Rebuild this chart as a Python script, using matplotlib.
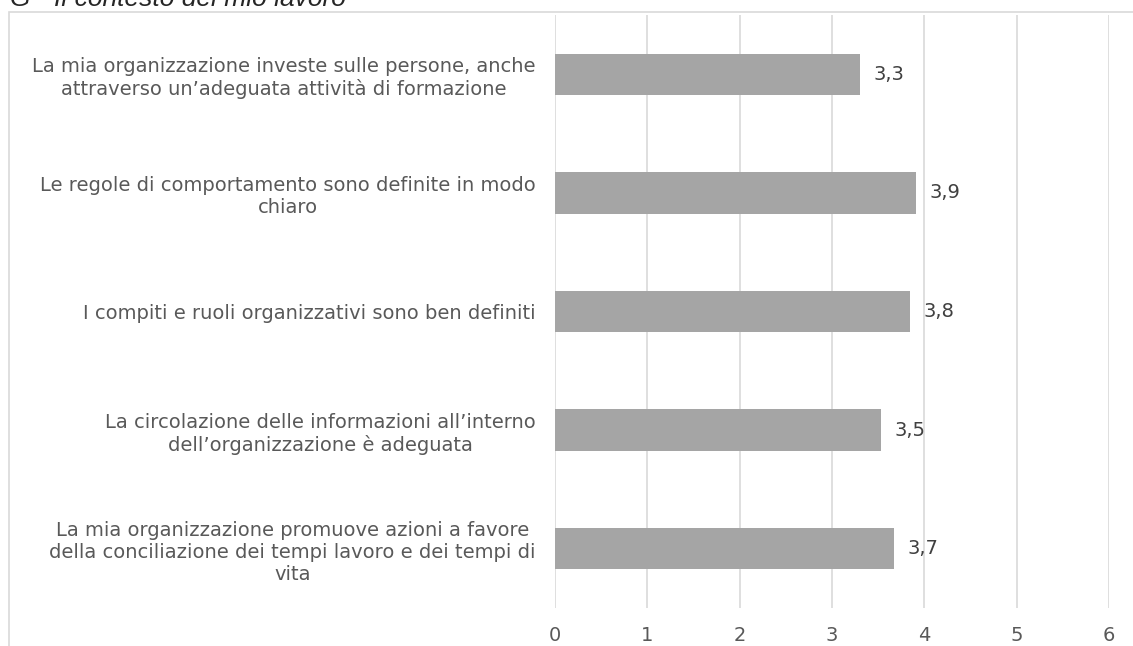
import matplotlib
matplotlib.use("Agg")
import matplotlib.pyplot as plt
from matplotlib.patches import Rectangle

#--DATA--#
categories = [
    "La mia organizzazione investe sulle persone, anche\nattraverso un\u2019adeguata attivit\u00e0 di formazione",
    "Le regole di comportamento sono definite in modo\nchiaro",
    "I compiti e ruoli organizzativi sono ben definiti",
    "La circolazione delle informazioni all\u2019interno\ndell\u2019organizzazione \u00e8 adeguata",
    "La mia organizzazione promuove azioni a favore\ndella conciliazione dei tempi lavoro e dei tempi di\nvita",
]
values = [3.30, 3.91, 3.84, 3.53, 3.67]
value_labels = ["3,3", "3,9", "3,8", "3,5", "3,7"]
x_ticks = [0, 1, 2, 3, 4, 5, 6]
title = "G - Il contesto del mio lavoro"
#----#

W, H = 1133, 646
fig = plt.figure(figsize=(W / 100, H / 100), dpi=100)

# frame of the chart area (cut off at right and bottom)
fig.patches.append(Rectangle((9 / W, -0.1), 2.0, 1 - 12 / H + 0.1,
                             transform=fig.transFigure, fill=False,
                             edgecolor="#d9d9d9", linewidth=1.2))

# title, partly cut by the top edge
fig.text(10 / W, 1 - 6 / H, title, fontsize=19, style="italic",
         family="Liberation Sans", color="#262626", va="baseline", ha="left")

ax = fig.add_axes([555 / W, 38 / H, 554 / W, 593 / H])
ax.set_facecolor("none")

ypos = list(range(len(categories)))
ax.barh(ypos, values, height=0.35, color="#a5a5a5", zorder=2)

ax.set_xlim(0, 6)
ax.set_ylim(len(categories) - 0.5, -0.5)
ax.set_xticks(x_ticks)
ax.set_xticklabels([str(t) for t in x_ticks])
ax.set_yticks(ypos)
ax.set_yticklabels(categories, multialignment="center")
ax.tick_params(axis="both", length=0, labelsize=14, colors="#595959")
ax.tick_params(axis="y", pad=14)
ax.tick_params(axis="x", pad=13)
ax.grid(axis="x", color="#d9d9d9", linewidth=1.2, zorder=0)
for s in ax.spines.values():
    s.set_visible(False)

for y, v, lab in zip(ypos, values, value_labels):
    ax.text(v + 0.15, y, lab, va="center", ha="left",
            fontsize=14, color="#404040")

fig.savefig("out.png", dpi=100)
